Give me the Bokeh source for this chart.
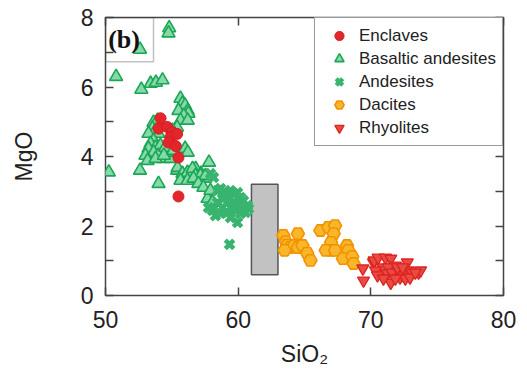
import numpy as np
from bokeh.plotting import figure
from bokeh.models import LinearAxis, FixedTicker, Legend, LegendItem, BoxAnnotation, Label
from bokeh.embed import file_html
from bokeh.resources import INLINE

# ---- data (SiO2 wt%, MgO wt%) ----
enclaves_x = [54.15, 54.0, 54.65, 55.05, 54.9, 55.4, 54.75, 55.3, 55.5, 55.5]
enclaves_y = [5.1, 4.8, 4.85, 4.7, 4.55, 4.65, 4.4, 4.3, 3.97, 2.85]

basaltic_x = [54.8, 54.75, 52.6, 50.8, 52.7, 53.4, 53.8, 54.3,
              55.65, 55.8, 56.0, 56.2, 56.25, 55.5, 55.9, 55.65, 56.2, 55.4, 55.05,
              53.62, 53.92, 53.54, 53.77, 53.24, 53.99, 53.62, 53.39, 53.77, 54.14, 53.24, 53.62, 53.01, 53.99, 54.37, 53.17, 53.77, 54.9, 54.67,
              50.25, 52.6, 54.0, 55.4, 56.0, 55.8, 56.4, 56.8, 57.2, 57.5, 57.8,
              54.5, 54.4, 55.1, 56.2,
              55.43, 55.8, 56.18, 56.56, 56.78, 57.16, 57.54, 55.65, 56.18, 56.63, 57.0, 57.38, 57.69, 58.06, 57.91]
basaltic_y = [7.7, 7.55, 7.08, 6.3, 5.93, 6.1, 6.13, 6.2,
              5.67, 5.53, 5.47, 5.32, 5.24, 5.32, 5.18, 5.04, 5.04, 4.84, 4.75,
              4.98, 5.04, 4.81, 4.75, 4.66, 4.66, 4.46, 4.37, 4.26, 4.32, 4.23, 4.12, 4.03, 4.03, 3.94, 3.88, 3.94, 3.94, 4.12,
              3.55, 3.6, 3.22, 3.6, 4.23, 3.4, 3.51, 3.65, 3.51, 3.37, 3.83,
              4.26, 4.03, 4.17, 4.12,
              3.68, 3.51, 3.54, 3.65, 3.45, 3.45, 3.45, 3.31, 3.31, 3.37, 3.22, 3.11, 2.79, 2.68, 3.02]

andesites_x = [57.91, 58.14, 58.44, 58.67, 58.82, 59.05, 59.42, 59.65, 59.95, 60.17, 60.4, 60.7, 60.78,
               58.89, 59.27, 59.65, 60.02, 60.32, 59.42, 59.8, 59.19, 58.82, 58.44, 58.06, 57.76,
               58.29, 58.67, 59.42, 59.95, 60.17, 60.55, 59.35]
andesites_y = [3.51, 3.40, 3.02, 3.08, 2.94, 2.96, 3.02, 2.94, 2.96, 2.82, 2.73, 2.59, 2.50,
               2.79, 2.73, 2.68, 2.65, 2.50, 2.53, 2.45, 2.39, 2.53, 2.68, 2.45, 2.53,
               2.30, 2.36, 2.24, 2.10, 2.36, 2.39, 1.47]

dacites_x = [63.4, 63.6, 63.7, 63.9, 64.2, 64.5, 64.5, 64.85, 65.2, 65.45, 66.2, 66.8,
             67.3, 67.2, 67.0, 67.0, 66.6, 67.3, 68.2, 68.3, 67.9, 68.6, 68.7, 63.5]
dacites_y = [1.73, 1.55, 1.45, 1.38, 1.44, 1.38, 1.78, 1.44, 1.22, 1.01, 1.87, 1.96,
             2.01, 1.78, 1.53, 1.30, 1.30, 1.30, 1.44, 1.30, 1.06, 1.12, 0.92, 1.30]

rhyolites_x = [69.4, 69.45, 70.2, 70.25, 70.55, 71.1, 71.5, 71.85, 70.9, 71.3, 70.35, 70.5,
               71.25, 71.6, 72.1, 72.75, 72.8, 72.2, 72.45, 73.1, 73.6, 73.75, 71.5, 70.95,
               72.6, 72.95, 73.35, 72.0, 72.4, 71.85]
rhyolites_y = [0.78, 0.43, 0.95, 1.01, 1.09, 1.09, 1.06, 0.86, 0.81, 0.81, 0.72, 0.58,
               0.63, 0.66, 0.72, 0.95, 0.72, 0.52, 0.58, 0.66, 0.66, 0.72, 0.37, 0.49,
               0.49, 0.52, 0.66, 0.81, 0.81, 0.49]

gap_sio2 = [61, 63]
gap_mgo = [0.6, 3.2]

x_ticks = [50, 60, 70, 80]
y_ticks = [0, 2, 4, 6, 8]
y_minor = [1, 3, 5, 7]
y_all = [0, 1, 2, 3, 4, 5, 6, 7, 8]

FONT = "Liberation Sans"
TXT = "#222222"

p = figure(width=527, height=369, x_range=(50, 80), y_range=(0, 8),
           output_backend="svg", toolbar_location=None,
           min_border_left=105, min_border_right=24, min_border_top=17, min_border_bottom=74)
p.background_fill_color = "white"
p.border_fill_color = "white"
p.xgrid.visible = False
p.ygrid.visible = False
p.outline_line_color = "#444444"
p.outline_line_width = 1.5

def style_ticks(ax):
    ax.major_tick_in = 8
    ax.major_tick_out = 0
    ax.minor_tick_in = 8
    ax.minor_tick_out = 0
    ax.major_tick_line_color = "#444444"
    ax.minor_tick_line_color = "#444444"
    ax.major_tick_line_width = 1.5
    ax.minor_tick_line_width = 1.5
    ax.axis_line_color = None

def style_text(ax):
    ax.major_label_text_font = FONT
    ax.major_label_text_font_size = "23px"
    ax.major_label_text_color = TXT
    ax.axis_label_text_font = FONT
    ax.axis_label_text_font_size = "23px"
    ax.axis_label_text_font_style = "normal"
    ax.axis_label_text_color = TXT

xa = p.xaxis[0]
xa.ticker = FixedTicker(ticks=x_ticks)
style_ticks(xa)
style_text(xa)
xa.major_label_standoff = 15
xa.axis_label = "SiO₂"
xa.axis_label_standoff = 10

ya = p.yaxis[0]
ya.ticker = FixedTicker(ticks=y_ticks, minor_ticks=y_minor)
style_ticks(ya)
style_text(ya)
ya.major_label_standoff = 12
ya.axis_label = "MgO"
ya.axis_label_standoff = 41

# mirrored inward ticks on top and right (label-free: ticks given as minor ticks)
top = LinearAxis(ticker=FixedTicker(ticks=[], minor_ticks=x_ticks))
style_ticks(top)
top.major_label_standoff = 0
p.add_layout(top, "above")
right = LinearAxis(ticker=FixedTicker(ticks=[], minor_ticks=y_all))
style_ticks(right)
right.major_label_standoff = 0
p.add_layout(right, "right")

# gap rectangle
p.quad(left=[gap_sio2[0]], right=[gap_sio2[1]], bottom=[gap_mgo[0]], top=[gap_mgo[1]],
       fill_color="#c2c2c2", line_color="#555555", line_width=1.5)

r_bas = p.scatter(basaltic_x, basaltic_y, marker="triangle", size=13,
                  fill_color="#86d9a8", line_color="#1aa755", line_width=1.6)
r_and = p.scatter(andesites_x, andesites_y, marker="x", size=12,
                  line_color="#38b46e", line_width=4.5)
r_enc = p.scatter(enclaves_x, enclaves_y, marker="circle", size=11,
                  fill_color="#e2262b", line_color="#d81e22", line_width=1)
r_dac = p.scatter(dacites_x, dacites_y, marker="hex", size=13,
                  fill_color="#f8b62a", line_color="#f39200", line_width=1.6)
r_rhy = p.scatter(rhyolites_x, rhyolites_y, marker="inverted_triangle", size=12,
                  fill_color="#ea4a44", line_color="#dc2520", line_width=1.4)

legend = Legend(items=[
    LegendItem(label="Enclaves", renderers=[r_enc]),
    LegendItem(label="Basaltic andesites", renderers=[r_bas]),
    LegendItem(label="Andesites", renderers=[r_and]),
    LegendItem(label="Dacites", renderers=[r_dac]),
    LegendItem(label="Rhyolites", renderers=[r_rhy]),
], location="top_right")
legend.margin = 0
legend.padding = 6
legend.spacing = 0
legend.glyph_height = 23
legend.label_height = 23
legend.glyph_width = 36
legend.label_standoff = 2
legend.label_text_font = FONT
legend.label_text_font_size = "17px"
legend.label_text_color = TXT
legend.border_line_color = "#333333"
legend.border_line_width = 1.5
legend.background_fill_alpha = 1
p.add_layout(legend)

# panel tag "(b)"
p.add_layout(BoxAnnotation(left=50, right=53.62, bottom=6.73, top=8,
                           fill_alpha=0, line_color="#333333", line_width=1.5))
p.add_layout(Label(x=50.2, y=7.37, text="(b)", text_font="Liberation Serif",
                   text_font_style="bold", text_font_size="26px", text_color="#111111",
                   text_baseline="middle", text_align="left"))

open("out.html", "w").write(file_html(p, INLINE))
